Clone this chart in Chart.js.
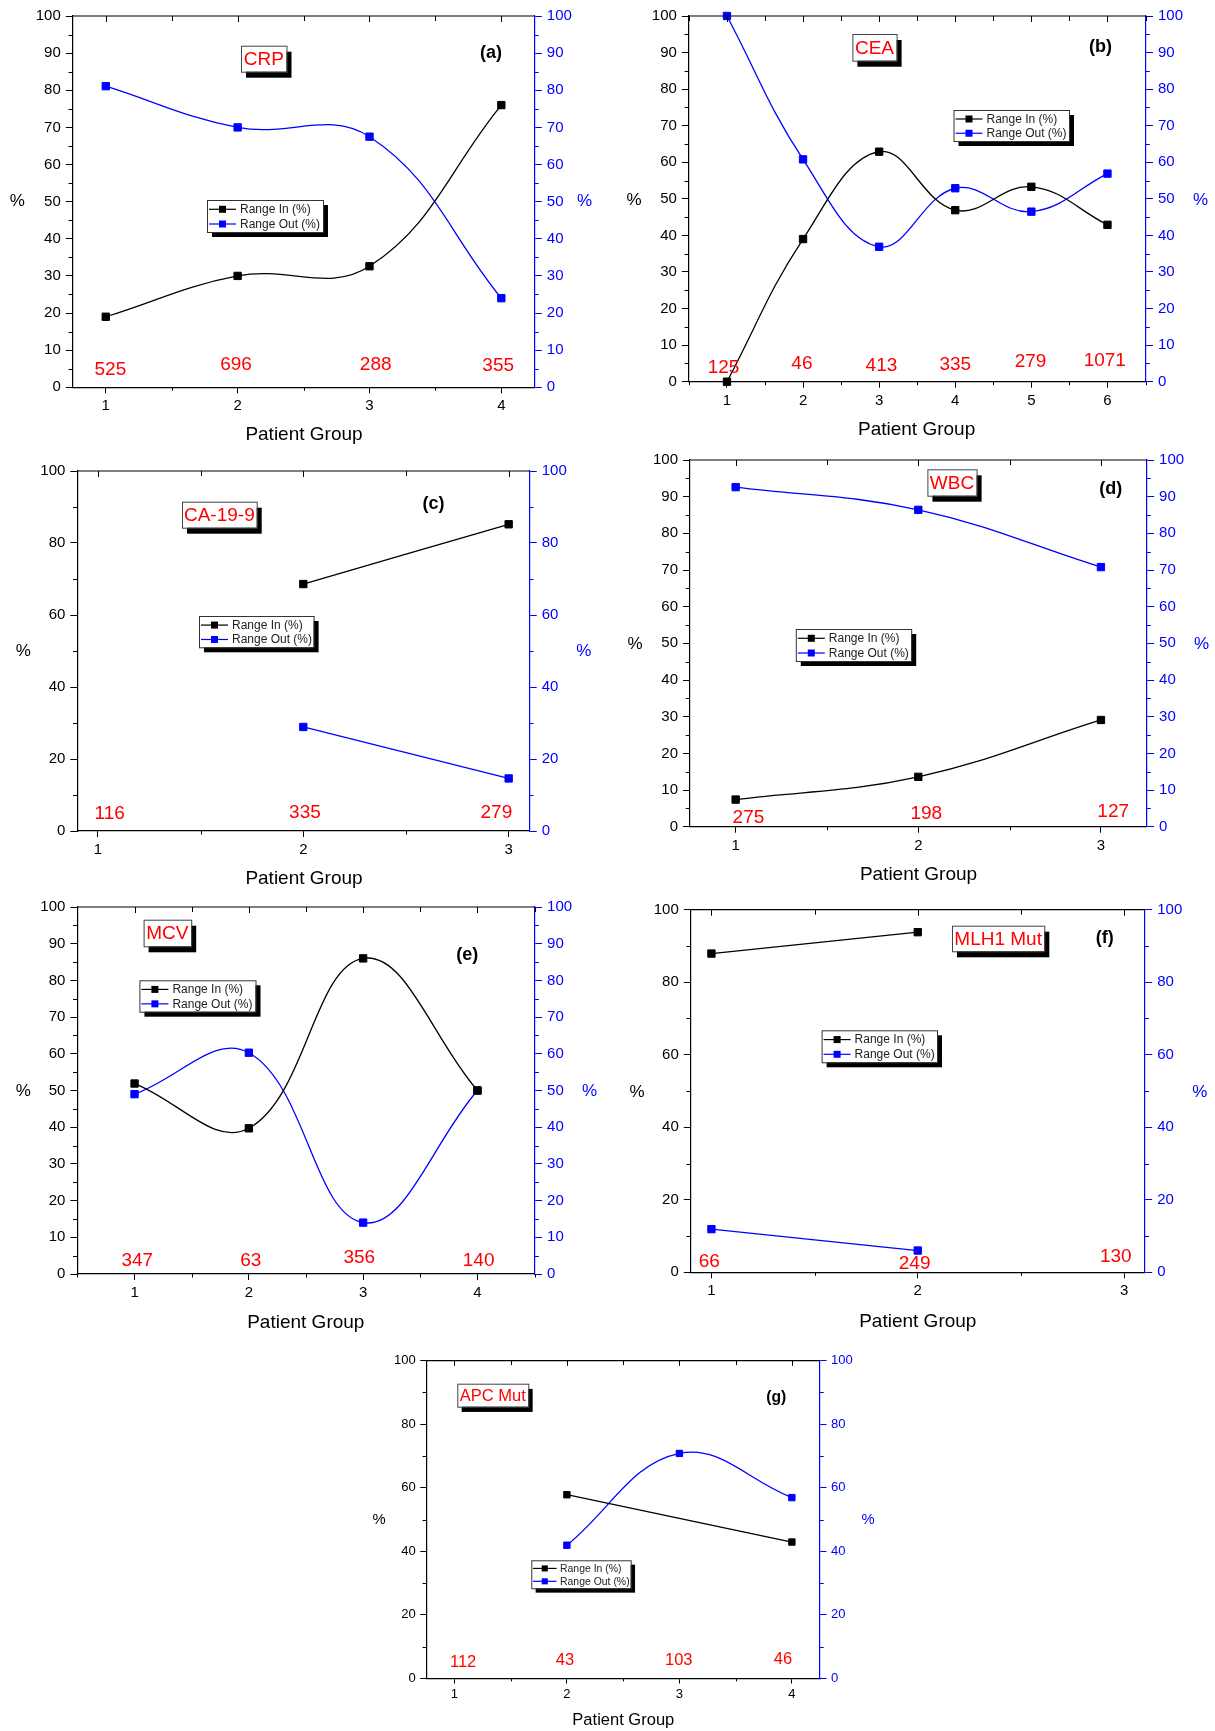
<!DOCTYPE html>
<html><head><meta charset="utf-8">
<script src="https://cdn.jsdelivr.net/npm/chart.js@4.4.1/dist/chart.umd.min.js"></script>
<style>
html,body{margin:0;padding:0;background:#fff;}
body{width:1215px;height:1731px;position:relative;overflow:hidden;}
canvas{position:absolute;}
</style></head><body>
<script>
// ---------- DATA ----------
const seriesNames = ['Range In (%)', 'Range Out (%)'];
const titles = ['CRP', 'CEA', 'CA-19-9', 'WBC', 'MCV', 'MLH1 Mut', 'APC Mut'];
const letters = ['(a)', '(b)', '(c)', '(d)', '(e)', '(f)', '(g)'];
const xTitle = 'Patient Group';
const yTitle = '%';

const groupsA = [1, 2, 3, 4];
const inA = [19.0, 30.0, 32.6, 76.0];
const outA = [81.1, 70.0, 67.5, 24.0];
const countsA = ['525', '696', '288', '355'];

const groupsB = [1, 2, 3, 4, 5, 6];
const inB = [0, 39.0, 62.9, 46.9, 53.3, 42.9];
const outB = [100, 60.8, 36.9, 52.9, 46.5, 56.9];
const countsB = ['125', '46', '413', '335', '279', '1071'];

const groupsC = [1, 2, 3];
const inC = [null, 68.6, 85.2];
const outC = [null, 28.9, 14.6];
const countsC = ['116', '335', '279'];

const groupsD = [1, 2, 3];
const inD = [7.4, 13.6, 29.1];
const outD = [92.6, 86.4, 70.8];
const countsD = ['275', '198', '127'];

const groupsE = [1, 2, 3, 4];
const inE = [51.9, 39.7, 86.0, 50.0];
const outE = [49.0, 60.3, 14.0, 50.0];
const countsE = ['347', '63', '356', '140'];

const groupsF = [1, 2, 3];
const inF = [87.9, 93.8, null];
const outF = [11.9, 6.0, null];
const countsF = ['66', '249', '130'];

const groupsG = [1, 2, 3, 4];
const inG = [null, 57.8, null, 42.9];
const outG = [null, 41.9, 70.8, 56.9];
const countsG = ['112', '43', '103', '46'];

// ---------- LAYOUT (page pixels) ----------
const layouts = [
  {box:[0,0,607,452], plot:[72.8,16,534.3,387.3], xr:[0.75,4.25], ystep:10, fs:1,
   tbox:[241,45.7,286.5,71.7], letter:[491,53.3], legend:[207,200,323,232],
   yl:[17.4,201.7], yr:[584.6,201.7], xt:[304,435],
   cdx:[0.035,-0.012,0.047,-0.024], clv:[4.7,6.2,6.2,5.8]},
  {box:[612,0,603,445], plot:[688.9,16,1145.5,381.7], xr:[0.5,6.5], ystep:10, fs:1,
   tbox:[852.4,34,896.6,60.7], letter:[1100.5,46.7], legend:[953.5,110,1069,141],
   yl:[634,200], yr:[1200.5,200], xt:[916.6,430],
   cdx:[-0.045,-0.015,0.03,0,-0.01,-0.035], clv:[3.8,5.0,4.4,4.6,5.5,5.7]},
  {box:[0,455,607,437], plot:[77.4,471,529.2,831], xr:[0.9,3.1], ystep:20, fs:1,
   tbox:[182,501.7,256.7,527.7], letter:[433.6,504.3], legend:[199,616,313.6,647.3],
   yl:[23.2,651.7], yr:[583.8,651.7], xt:[304,879],
   cdx:[0.057,0.008,-0.06], clv:[4.8,5.1,5.1]},
  {box:[612,445,603,446], plot:[690,460,1146.6,826.7], xr:[0.75,3.25], ystep:10, fs:1,
   tbox:[927.4,469.3,976.6,495.7], letter:[1110.8,489], legend:[795.8,629,911.2,661],
   yl:[635,644], yr:[1201.6,644], xt:[918.5,875],
   cdx:[0.07,0.044,0.067], clv:[2.5,3.6,4.1]},
  {box:[0,893,607,442], plot:[77.4,907,534.6,1274], xr:[0.5,4.5], ystep:10, fs:1,
   tbox:[143.6,919.7,191.2,946.3], letter:[467.3,954.7], legend:[139.4,980.3,255.5,1011.7],
   yl:[23.2,1091.3], yr:[589.6,1091.3], xt:[305.8,1323],
   cdx:[0.024,0.017,-0.034,0.01], clv:[3.5,3.7,4.5,3.7]},
  {box:[612,893,603,442], plot:[690.8,909.7,1144.7,1272.3], xr:[0.9,3.1], ystep:20, fs:1,
   tbox:[952,925.7,1044.3,951.3], letter:[1104.7,938], legend:[821.6,1030.3,937,1062.3],
   yl:[637,1092], yr:[1199.7,1092], xt:[917.8,1321.3],
   cdx:[-0.01,-0.015,-0.04], clv:[2.8,2.4,4.4]},
  {box:[364,1345,520,386], plot:[426.3,1360.7,820,1678.3], xr:[0.75,4.25], ystep:20, fs:0.87,
   tbox:[457.3,1383.7,528.3,1406.7], letter:[776.3,1397.3], legend:[531.3,1560.3,630.7,1588.3],
   yl:[379,1520], yr:[868,1520], xt:[623.3,1720.7],
   cdx:[0.077,-0.018,-0.006,-0.08], clv:[5.0,5.5,5.5,5.8]}
];

const panelData = [
  {groups:groupsA, inV:inA, outV:outA, counts:countsA},
  {groups:groupsB, inV:inB, outV:outB, counts:countsB},
  {groups:groupsC, inV:inC, outV:outC, counts:countsC},
  {groups:groupsD, inV:inD, outV:outD, counts:countsD},
  {groups:groupsE, inV:inE, outV:outE, counts:countsE},
  {groups:groupsF, inV:inF, outV:outF, counts:countsF},
  {groups:groupsG, inV:inG, outV:outG, counts:countsG}
];

const FONT = '"Liberation Sans", Arial, Helvetica, sans-serif';
const BLACK = '#000000', BLUE = '#0000ff', RED = '#ff0000';

function ln(ctx, x1, y1, x2, y2) { ctx.beginPath(); ctx.moveTo(x1, y1); ctx.lineTo(x2, y2); ctx.stroke(); }

function makeDecor(P) {
  return {
    id: 'decor',
    afterDraw(chart) {
      const L = P.layout, ctx = chart.ctx, ca = chart.chartArea;
      const bx = L.box[0], by = L.box[1], s = L.fs;
      const xs = chart.scales.x, ys = chart.scales.y;
      ctx.save();
      // top frame line with inward ticks, bottom minor ticks
      ctx.strokeStyle = BLACK; ctx.lineWidth = 1.2;
      ln(ctx, ca.left, ca.top, ca.right, ca.top);
      ctx.lineWidth = 1;
      for (let v = Math.ceil(L.xr[0] * 2) / 2; v <= L.xr[1] + 1e-9; v += 0.5) {
        const px = Math.round(xs.getPixelForValue(v)) + 0.5;
        const major = Math.abs(v - Math.round(v)) < 1e-9;
        ln(ctx, px, ca.top, px, ca.top + (major ? 6 : 5) * s);
        if (!major) ln(ctx, px, ca.bottom, px, ca.bottom + 3.5 * s);
      }
      // minor y ticks
      for (let v = L.ystep / 2; v < 100; v += L.ystep) {
        const py = Math.round(ys.getPixelForValue(v)) + 0.5;
        ctx.strokeStyle = BLACK; ln(ctx, ca.left - 4.3 * s, py, ca.left, py);
        ctx.strokeStyle = BLUE; ln(ctx, ca.right, py, ca.right + 4.3 * s, py);
      }
      // axis titles
      ctx.textAlign = 'center'; ctx.textBaseline = 'middle';
      ctx.font = `${17 * s}px ${FONT}`;
      ctx.fillStyle = BLACK; ctx.fillText(yTitle, L.yl[0] - bx, L.yl[1] - by);
      ctx.fillStyle = BLUE; ctx.fillText(yTitle, L.yr[0] - bx, L.yr[1] - by);
      ctx.font = `${19 * s}px ${FONT}`;
      ctx.fillStyle = BLACK; ctx.fillText(xTitle, L.xt[0] - bx, L.xt[1] - by);
      // patient counts
      ctx.font = `${19 * s}px ${FONT}`; ctx.fillStyle = RED;
      P.data.counts.forEach((c, i) => {
        const px = xs.getPixelForValue(P.data.groups[i] + L.cdx[i]);
        const py = ys.getPixelForValue(L.clv[i]);
        ctx.fillText(c, px, py);
      });
      // panel letter
      ctx.font = `bold ${18 * s}px ${FONT}`; ctx.fillStyle = BLACK;
      ctx.fillText(P.letter, L.letter[0] - bx, L.letter[1] - by);
      // marker title box with shadow
      const tx = L.tbox[0] - bx, ty = L.tbox[1] - by, tw = L.tbox[2] - L.tbox[0], th = L.tbox[3] - L.tbox[1];
      ctx.fillStyle = BLACK; ctx.fillRect(tx + 5 * s, ty + 6 * s, tw, th);
      ctx.fillStyle = '#fff'; ctx.fillRect(tx, ty, tw, th);
      ctx.strokeStyle = '#444'; ctx.lineWidth = 1; ctx.strokeRect(tx + 0.5, ty + 0.5, tw, th);
      ctx.font = `${19 * s}px ${FONT}`; ctx.fillStyle = RED;
      ctx.fillText(P.title, tx + tw / 2, ty + th / 2 + 1);
      // legend box with shadow
      const lx = L.legend[0] - bx, ly = L.legend[1] - by, lw = L.legend[2] - L.legend[0], lh = L.legend[3] - L.legend[1];
      ctx.fillStyle = BLACK; ctx.fillRect(lx + 5 * s, ly + 5 * s, lw, lh);
      ctx.fillStyle = '#fff'; ctx.fillRect(lx, ly, lw, lh);
      ctx.strokeStyle = '#333'; ctx.lineWidth = 1; ctx.strokeRect(lx + 0.5, ly + 0.5, lw, lh);
      ctx.font = `${12 * s}px ${FONT}`; ctx.textAlign = 'left';
      chart.data.datasets.forEach((ds, i) => {
        const ry = ly + lh * (0.29 + 0.46 * i);
        ctx.strokeStyle = ds.borderColor; ctx.lineWidth = 1.2;
        ln(ctx, lx + 2 * s, ry, lx + 29 * s, ry);
        const m = 7 * s;
        ctx.fillStyle = ds.borderColor; ctx.fillRect(lx + 15.5 * s - m / 2, ry - m / 2, m, m);
        ctx.fillStyle = '#222'; ctx.fillText(ds.label, lx + 33 * s, ry + 0.5);
      });
      ctx.restore();
    }
  };
}

layouts.forEach((L, idx) => {
  const D = panelData[idx];
  const [bx, by, bw, bh] = L.box;
  const [pl, pt, pr, pb] = L.plot;
  const s = L.fs;
  const cv = document.createElement('canvas');
  cv.width = bw; cv.height = bh;
  cv.style.left = bx + 'px'; cv.style.top = by + 'px';
  cv.style.width = bw + 'px'; cv.style.height = bh + 'px';
  document.body.appendChild(cv);
  const tickFont = {family: FONT, size: 15 * s};
  const mk = (vals, color, axis, name) => ({
    label: name,
    data: D.groups.map((g, i) => ({x: g, y: vals[i]})),
    yAxisID: axis,
    borderColor: color, backgroundColor: color,
    pointBackgroundColor: color, pointBorderColor: color,
    borderWidth: 1.3, pointStyle: 'rect', pointRadius: 5.2 * s, pointBorderWidth: 1,
    tension: 0.4, spanGaps: true, clip: false, fill: false
  });
  const P = {layout: L, data: D, title: titles[idx], letter: letters[idx]};
  new Chart(cv, {
    type: 'line',
    data: {datasets: [mk(D.inV, BLACK, 'y', seriesNames[0]), mk(D.outV, BLUE, 'y1', seriesNames[1])]},
    options: {
      responsive: false, animation: false, devicePixelRatio: 1,
      layout: {padding: {top: pt - by, left: 0, right: 0, bottom: 0}},
      plugins: {legend: {display: false}, tooltip: {enabled: false}},
      scales: {
        x: {type: 'linear', position: 'bottom', min: L.xr[0], max: L.xr[1],
            afterFit: sc => { sc.height = by + bh - pb; },
            afterBuildTicks: sc => { sc.ticks = D.groups.map(v => ({value: v})); },
            ticks: {font: tickFont, color: BLACK, padding: 4 * s, maxRotation: 0, autoSkip: false,
                    callback: v => String(v)},
            grid: {display: true, drawOnChartArea: false, drawTicks: true, tickLength: 6 * s, color: BLACK, lineWidth: 1},
            border: {display: true, color: BLACK, width: 1.2}},
        y: {position: 'left', min: 0, max: 100,
            afterFit: sc => { sc.width = pl - bx; },
            ticks: {stepSize: L.ystep, font: tickFont, color: BLACK, padding: 5 * s},
            grid: {display: true, drawOnChartArea: false, drawTicks: true, tickLength: 7 * s, color: BLACK, lineWidth: 1},
            border: {display: true, color: BLACK, width: 1.2}},
        y1: {position: 'right', min: 0, max: 100,
            afterFit: sc => { sc.width = bx + bw - pr; },
            ticks: {stepSize: L.ystep, font: tickFont, color: BLUE, padding: 5 * s},
            grid: {display: true, drawOnChartArea: false, drawTicks: true, tickLength: 7.5 * s, color: BLUE, lineWidth: 1},
            border: {display: true, color: BLUE, width: 1.2}}
      }
    },
    plugins: [makeDecor(P)]
  });
});
</script>
</body></html>
